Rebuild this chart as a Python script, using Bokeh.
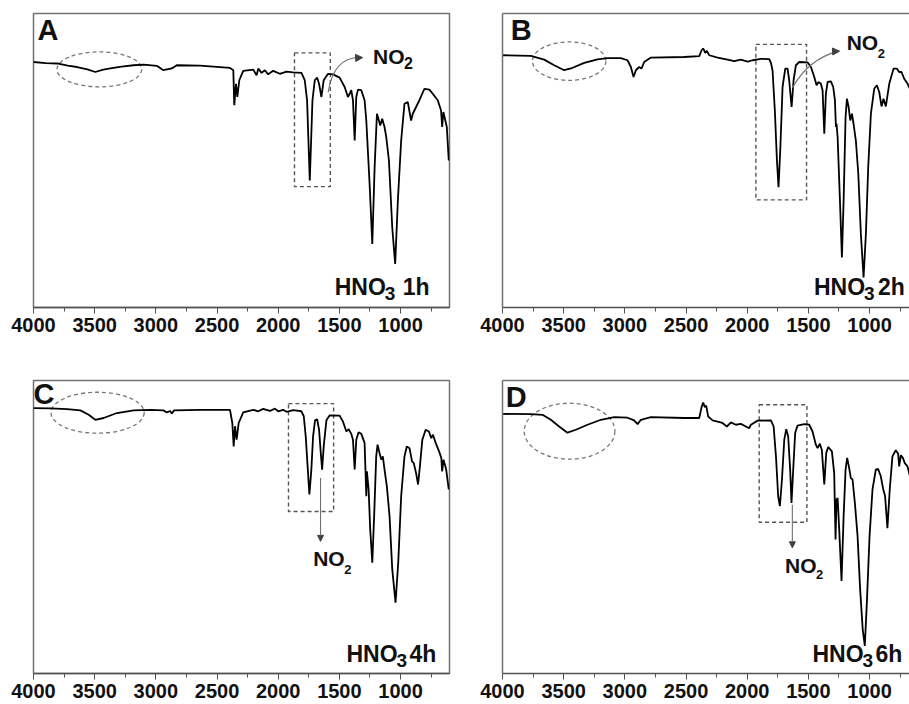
from bokeh.plotting import figure
from bokeh.models import Range1d, FixedTicker, Label, Arrow, NormalHead, LinearAxis
from bokeh.layouts import column, row
from bokeh.embed import file_html
from bokeh.resources import INLINE

# ---------------- data (wavenumber cm-1, transmittance a.u.) ----------------
tick_values = [4000, 3500, 3000, 2500, 2000, 1500, 1000]
minor_tick_values = [3750, 3250, 2750, 2250, 1750, 1250, 750]
panel_letters = ["A", "B", "C", "D"]
time_labels = ["1h", "2h", "4h", "6h"]

spec_A = [(4000, 83.5), (3900, 83.1), (3807, 83.0), (3720, 82.3), (3644, 81.8), (3560, 81.0), (3495, 80.1),
          (3430, 80.9), (3372, 81.3), (3280, 81.9), (3182, 82.4), (3101, 82.6), (2992, 82.2), (2938, 80.7),
          (2870, 81.3), (2829, 82.4), (2639, 82.3), (2394, 81.5), (2367, 80.7), (2359, 68.8), (2345, 76.1),
          (2334, 71.6), (2318, 77.3), (2286, 80.5), (2204, 80.9), (2177, 79.0), (2163, 81.25), (2136, 79.8),
          (2109, 80.7), (2082, 79.3), (2041, 80.5), (1987, 79.5), (1932, 80.2), (1878, 80.0), (1810, 79.8),
          (1783, 77.3), (1764, 70.5), (1753, 56.8), (1742, 43.2), (1731, 56.8), (1720, 70.5), (1701, 77.3),
          (1682, 78.2), (1666, 76.1), (1647, 71.6), (1628, 77.3), (1593, 79.5), (1552, 79.3), (1498, 78.2),
          (1457, 75.0), (1430, 71.6), (1416, 72.7), (1403, 73.9), (1389, 70.5), (1375, 56.8), (1362, 71.6),
          (1348, 74.1), (1321, 73.9), (1294, 70.5), (1280, 63.6), (1253, 42.0), (1231, 21.6), (1212, 47.7),
          (1193, 65.9), (1177, 63.6), (1166, 61.9), (1150, 64.2), (1131, 61.4), (1117, 58.0), (1095, 50.0),
          (1068, 27.3), (1044, 14.8), (1022, 36.4), (995, 56.8), (968, 69.3), (941, 69.9), (914, 63.6),
          (900, 65.9), (873, 68.2), (846, 70.5), (805, 74.4), (764, 74.1), (737, 72.7), (696, 70.5),
          (669, 67.0), (660, 61.4), (650, 66.5), (622, 61.4), (606, 50.0)]

spec_B = [(4000, 85.8), (3768, 85.6), (3659, 84.3), (3578, 82.4), (3496, 80.7), (3441, 81.3), (3332, 83.2),
          (3223, 84.4), (3142, 84.8), (3033, 84.8), (2978, 84.1), (2951, 81.8), (2929, 78.4), (2910, 80.7),
          (2883, 81.8), (2864, 81.25), (2842, 83.5), (2787, 85.0), (2515, 85.2), (2392, 85.5), (2373, 87.5),
          (2360, 88.1), (2343, 86.6), (2330, 87.3), (2310, 85.8), (2242, 85.0), (2161, 84.3), (2106, 83.8),
          (2052, 84.3), (1997, 83.6), (1956, 84.1), (1888, 84.6), (1820, 84.5), (1806, 83.2), (1793, 80.7),
          (1774, 67.0), (1757, 50.0), (1744, 40.9), (1730, 53.4), (1711, 75.0), (1689, 81.25), (1670, 81.25),
          (1657, 77.3), (1637, 68.2), (1621, 77.3), (1602, 82.4), (1575, 83.5), (1507, 83.4), (1479, 81.8),
          (1452, 78.4), (1433, 75.6), (1417, 76.7), (1398, 76.1), (1384, 73.9), (1370, 59.1), (1357, 72.7),
          (1343, 76.7), (1316, 76.9), (1297, 75.0), (1283, 70.5), (1275, 61.4), (1270, 62.5), (1261, 58.0),
          (1242, 36.4), (1226, 17.0), (1212, 36.4), (1196, 64.8), (1185, 71.0), (1171, 68.2), (1158, 63.6),
          (1144, 65.9), (1131, 62.5), (1112, 56.8), (1092, 45.5), (1071, 25.0), (1049, 10.2), (1030, 25.0),
          (1011, 47.7), (989, 65.9), (962, 74.4), (940, 75.6), (921, 73.3), (902, 68.4), (886, 71.0),
          (867, 68.4), (839, 76.1), (804, 81.25), (777, 81.25), (758, 80.1), (739, 80.1), (717, 77.8),
          (689, 76.1), (670, 74.4)]

spec_C = [(4000, 90.6), (3861, 90.5), (3726, 90.2), (3617, 89.8), (3549, 88.3), (3495, 86.6), (3427, 87.2),
          (3318, 88.9), (3182, 89.8), (3046, 90.0), (2938, 89.8), (2910, 89.1), (2883, 89.6), (2870, 88.7),
          (2851, 89.8), (2639, 90.0), (2394, 90.0), (2375, 85.5), (2364, 77.5), (2353, 84.4), (2340, 79.8),
          (2323, 85.5), (2286, 89.1), (2204, 90.0), (2163, 89.5), (2123, 90.3), (2068, 89.6), (2027, 90.4),
          (2000, 89.5), (1960, 90.0), (1932, 89.3), (1878, 89.9), (1810, 89.5), (1791, 87.8), (1775, 80.9),
          (1758, 69.6), (1745, 61.1), (1729, 69.6), (1715, 80.9), (1699, 86.4), (1682, 86.8), (1666, 83.2),
          (1650, 74.1), (1641, 69.6), (1628, 77.5), (1606, 86.4), (1579, 88.1), (1498, 88.0), (1471, 86.0),
          (1443, 82.6), (1424, 83.4), (1403, 81.8), (1389, 79.8), (1375, 69.6), (1362, 79.8), (1343, 82.3),
          (1321, 81.8), (1294, 78.7), (1286, 68.4), (1280, 60.5), (1275, 69.0), (1261, 62.8), (1248, 49.1),
          (1231, 37.8), (1215, 54.8), (1199, 74.1), (1188, 78.1), (1172, 75.3), (1158, 73.0), (1145, 74.1),
          (1131, 69.6), (1112, 63.9), (1090, 53.7), (1068, 35.6), (1041, 24.2), (1019, 37.8), (995, 60.5),
          (968, 74.1), (949, 77.5), (927, 76.9), (906, 72.4), (892, 71.8), (873, 68.4), (857, 64.5),
          (842, 70.7), (822, 79.8), (795, 83.2), (768, 82.6), (749, 80.3), (735, 81.5), (713, 78.7),
          (686, 75.9), (667, 73.6), (660, 69.0), (649, 73.0), (627, 69.6), (606, 62.8)]

spec_D = [(4000, 88.6), (3768, 88.5), (3673, 88.3), (3605, 86.6), (3537, 84.3), (3469, 82.2), (3401, 83.2),
          (3305, 84.9), (3196, 86.6), (3087, 87.5), (2978, 87.3), (2924, 86.4), (2896, 85.1), (2869, 86.6),
          (2787, 87.5), (2515, 87.2), (2392, 87.2), (2373, 90.9), (2360, 92.5), (2346, 90.9), (2335, 91.4),
          (2319, 87.7), (2283, 86.4), (2242, 86.0), (2202, 85.5), (2166, 84.3), (2133, 85.7), (2093, 84.9),
          (2052, 85.2), (2011, 84.3), (1984, 83.7), (1970, 84.9), (1915, 86.3), (1806, 86.4), (1784, 84.3),
          (1765, 74.1), (1747, 60.5), (1733, 57.1), (1716, 66.2), (1697, 79.8), (1681, 83.4), (1665, 80.9),
          (1649, 69.6), (1638, 58.2), (1624, 69.6), (1608, 82.1), (1589, 84.6), (1534, 85.1), (1493, 84.9),
          (1466, 82.6), (1439, 78.1), (1425, 76.9), (1406, 78.4), (1390, 76.3), (1370, 64.5), (1354, 75.3),
          (1338, 77.3), (1308, 75.8), (1289, 68.4), (1278, 45.7), (1270, 59.3), (1261, 59.9), (1248, 49.1),
          (1229, 31.6), (1212, 53.7), (1196, 69.6), (1183, 73.6), (1169, 70.7), (1153, 66.7), (1139, 66.2),
          (1120, 58.2), (1098, 46.9), (1077, 28.7), (1056, 15.1), (1039, 9.4), (1022, 24.2), (1000, 46.9),
          (976, 62.8), (949, 69.6), (930, 69.8), (908, 67.3), (889, 63.0), (873, 60.5), (854, 49.6),
          (835, 62.8), (813, 74.1), (786, 76.2), (766, 75.0), (758, 70.7), (744, 74.5), (728, 73.6),
          (712, 71.8), (690, 70.7), (670, 67.3)]

spectra = [spec_A, spec_B, spec_C, spec_D]

# annotation geometry (data coordinates)
ellipses = [(3462, 81.0, 693, 11.9), (3455, 83.8, 600, 13.1), (3476, 89.0, 761, 14.0), (3452, 82.7, 741, 19.1)]
boxes = [(1867, 1574, 86.6, 41.1), (1929, 1515, 89.5, 36.6), (1916, 1547, 92.1, 55.3), (1902, 1512, 91.7, 51.6)]
letter_pos = [(3967, 90.8), (3932, 90.8), (4000, 91.7), (3973, 90.7)]
# HNO3 label: anchor (x, baseline y); subscript & time label placed by pixel offsets
hno_pos = [(1538, 4.1), (1454, 4.1), (1442, 3.65), (1467, 3.65)]
hno_time_offset = [68, 64, 63, 63]
no2_pos = [((1225, 82.9), 16, -5), ((1187, 87.4), 13, -8),
           ((1714, 36.6), 13, -8), ((1691, 34.3), 13, -6)]
curved_arrows = [((1592, 73.2), (1545, 85.5), (1320, 85.0)),
                 ((1631, 74.7), (1500, 84.5), (1255, 87.2)),
                 None, None]
straight_arrows = [None, None, ((1654, 66.7), (1654, 45.1)), ((1631, 57.6), (1631, 42.9))]

FONT = "Liberation Sans"
PX_PER_UNIT = 416 / 3400.0
BASE_SHIFT = 0.37  # em fraction to lift labels so the glyph baseline sits on the anchor


def style_blank_axis(ax):
    ax.ticker = FixedTicker(ticks=[])
    ax.axis_line_color = "#707070"
    ax.axis_line_width = 1.5
    ax.major_tick_line_color = None
    ax.minor_tick_line_color = None
    ax.major_label_standoff = 0
    ax.axis_label = None


def add_text(p, x, y, text, size, dx=0, dy=0):
    p.add_layout(Label(x=x, y=y, x_offset=dx, y_offset=dy + BASE_SHIFT * size, text=text,
                       text_font=FONT, text_font_style="bold", text_color="#111111",
                       text_font_size=f"{size}px", text_baseline="alphabetic"))


def make_panel(i):
    left_col = i in (0, 2)
    top_row = i in (0, 1)
    w = 475 if left_col else 434
    h = 356 if top_row else 348
    bl = 33 if left_col else 27
    br = 26 if left_col else 0
    bt = 13 if top_row else 24
    bb = 49 if top_row else 31
    frame_w = w - bl - br
    x_end = 4000 - frame_w / PX_PER_UNIT
    p = figure(width=w, height=h, x_range=Range1d(4000, x_end), y_range=Range1d(0, 100),
               output_backend="svg", toolbar_location=None,
               min_border_left=bl, min_border_right=br, min_border_top=bt, min_border_bottom=bb)
    p.xgrid.visible = False
    p.ygrid.visible = False
    p.background_fill_color = "white"
    p.border_fill_color = "white"
    if left_col:
        p.yaxis.visible = False
        p.outline_line_color = "#707070"
        p.outline_line_width = 1.5
    else:
        p.outline_line_color = None
        style_blank_axis(p.yaxis[0])
        top_ax = LinearAxis()
        style_blank_axis(top_ax)
        p.add_layout(top_ax, "above")
    ax = p.below[0]
    ax.ticker = FixedTicker(ticks=tick_values, minor_ticks=minor_tick_values)
    ax.axis_line_color = "#505050"
    ax.axis_line_width = 1.6
    ax.major_tick_line_color = "#505050"
    ax.minor_tick_line_color = "#505050"
    ax.major_tick_out = 6
    ax.major_tick_in = 0
    ax.minor_tick_out = 4
    ax.minor_tick_in = 0
    ax.major_label_text_font = FONT
    ax.major_label_text_font_style = "bold"
    ax.major_label_text_font_size = "20px"
    ax.major_label_text_color = "#111111"
    ax.major_label_standoff = 4

    # dashed ellipse and dashed box
    cx, cy, ew, eh = ellipses[i]
    p.ellipse(x=[cx], y=[cy], width=[ew], height=[eh], fill_color=None,
              line_color="#777777", line_dash="4 3", line_width=1.3)
    l, r, t, b = boxes[i]
    p.quad(left=[l], right=[r], top=[t], bottom=[b], fill_color=None,
           line_color="#555555", line_dash="4 3", line_width=1.4)

    # spectrum
    xs = [v[0] for v in spectra[i]]
    ys = [v[1] for v in spectra[i]]
    p.line(xs, ys, line_color="black", line_width=1.8)

    # arrows
    if curved_arrows[i] is not None:
        (x0, y0), (qx, qy), (x1, y1) = curved_arrows[i]
        p.quadratic(x0=[x0], y0=[y0], cx=[qx], cy=[qy], x1=[x1], y1=[y1],
                    line_color="#707070", line_width=1.1)
        p.add_layout(Arrow(end=NormalHead(size=7, fill_color="#404040", line_color="#404040"),
                           x_start=x1 + 40, y_start=y1 - 0.1, x_end=x1 - 10, y_end=y1,
                           line_color="#707070", line_width=1.1))
    if straight_arrows[i] is not None:
        (x0, y0), (x1, y1) = straight_arrows[i]
        p.add_layout(Arrow(end=NormalHead(size=6, fill_color="#404040", line_color="#404040"),
                           x_start=x0, y_start=y0, x_end=x1, y_end=y1,
                           line_color="#707070", line_width=1.1))

    # panel letter
    lx, ly = letter_pos[i]
    add_text(p, lx, ly, panel_letters[i], 29)

    # HNO3 label
    hx, hy = hno_pos[i]
    add_text(p, hx, hy, "HNO", 23)
    add_text(p, hx, hy, "3", 19, dx=50, dy=-5)
    add_text(p, hx, hy, time_labels[i], 23, dx=hno_time_offset[i])

    # NO2 label
    (nx, ny), subsize, sub_dy = no2_pos[i]
    add_text(p, nx, ny, "NO", 21)
    add_text(p, nx, ny, "2", subsize, dx=31, dy=sub_dy)
    return p


panels = [make_panel(i) for i in range(4)]
layout = column(row(panels[0], panels[1]), row(panels[2], panels[3]))

open("out.html", "w").write(file_html(layout, INLINE))
